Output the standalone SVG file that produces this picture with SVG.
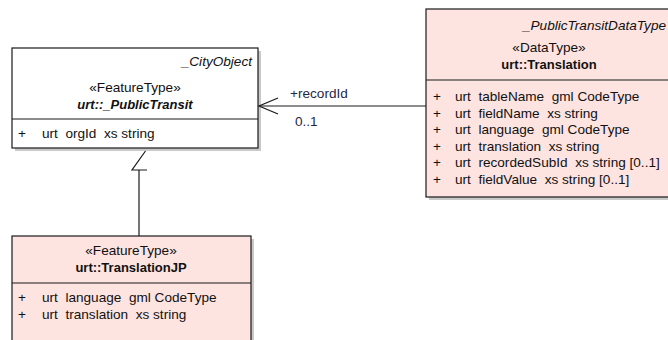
<svg xmlns="http://www.w3.org/2000/svg" width="668" height="340" viewBox="0 0 668 340">
<style>
text{font-family:"Liberation Sans",Arial,sans-serif;font-size:13.6px;fill:#111111;white-space:pre}
.box{stroke:#1a1a1a;stroke-width:1.2}
.white{fill:#ffffff}
.pink{fill:#fde4e1}
.shadow{fill:#c9c9c9}
.sep{stroke:#1a1a1a;stroke-width:1.2}
.c{text-anchor:middle}
.r{text-anchor:end}
.it{font-style:italic}
.b{font-weight:bold;font-size:13px}
.lbl{fill:#1f2748}
.edge{stroke:#1a1a1a;stroke-width:1.2;fill:none}
</style>
<rect width="668" height="340" fill="#ffffff"/>
<g id="node-PublicTransit">
<rect class="shadow" x="15" y="51" width="246" height="100"/>
<rect class="box white" x="12" y="48" width="246" height="100"/>
<line class="sep" x1="12" y1="119" x2="258" y2="119"/>
<text class="r it" x="252" y="66">_CityObject</text>
<text class="c" x="135" y="92">«FeatureType»</text>
<text class="c b it" x="135" y="109">urt::_PublicTransit</text>
<text x="18" y="138">+</text>
<text x="42" y="138">urt  orgId  xs string</text>
</g>
<g id="node-Translation">
<rect class="shadow" x="429" y="12" width="246" height="188"/>
<rect class="box pink" x="426" y="9" width="246" height="188"/>
<line class="sep" x1="426" y1="80" x2="672" y2="80"/>
<text class="r it" x="666" y="30">_PublicTransitDataType</text>
<text class="c" x="549" y="52">«DataType»</text>
<text class="c b" x="549" y="69">urt::Translation</text>
<text x="433" y="101">+</text>
<text x="455" y="101">urt  tableName  gml CodeType</text>
<text x="433" y="118">+</text>
<text x="455" y="118">urt  fieldName  xs string</text>
<text x="433" y="134">+</text>
<text x="455" y="134">urt  language  gml CodeType</text>
<text x="433" y="151">+</text>
<text x="455" y="151">urt  translation  xs string</text>
<text x="433" y="167">+</text>
<text x="455" y="167">urt  recordedSubId  xs string [0..1]</text>
<text x="433" y="184">+</text>
<text x="455" y="184">urt  fieldValue  xs string [0..1]</text>
</g>
<g id="node-TranslationJP">
<rect class="shadow" x="15" y="239" width="239" height="110"/>
<rect class="box pink" x="12" y="236" width="239" height="110"/>
<line class="sep" x1="12" y1="283" x2="251" y2="283"/>
<text class="c" x="131" y="255">«FeatureType»</text>
<text class="c b" x="131" y="272">urt::TranslationJP</text>
<text x="18" y="302">+</text>
<text x="42" y="302">urt  language  gml CodeType</text>
<text x="18" y="319">+</text>
<text x="42" y="319">urt  translation  xs string</text>
</g>
<g id="connectors">
<line class="edge" x1="426" y1="106" x2="259" y2="106"/>
<polyline class="edge" points="278,98 259,106 278,114"/>
<text class="lbl" x="290" y="98">+recordId</text>
<text class="lbl" x="295" y="126">0..1</text>
<line class="edge" x1="139" y1="170" x2="139" y2="236"/>
<polyline class="edge" points="145.5,151 132,170 147,170"/>
</g>
</svg>
